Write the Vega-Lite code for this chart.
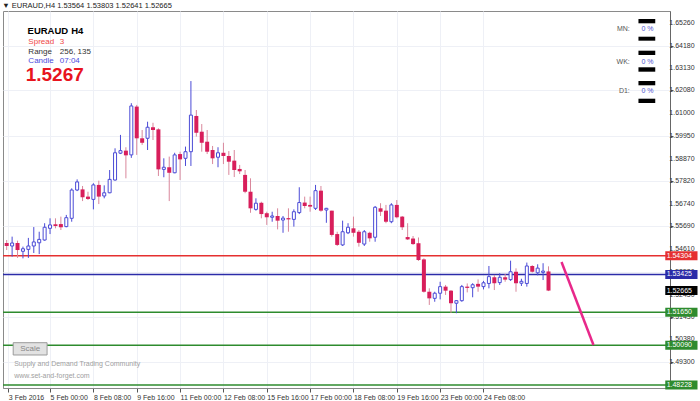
{
"$schema":"https://vega.github.io/schema/vega-lite/v6.json",
"autosize":"none",
"width":667,"height":377,
"padding":{"left":3,"top":11,"right":30,"bottom":13},
"background":"white",
"title":{"text":"▼ EURAUD,H4  1.53564 1.53803 1.52641 1.52665","anchor":"start","fontSize":7.5,"font":"Liberation Sans","fontWeight":"normal","color":"#222","offset":2},
"config":{"view":{"stroke":"#8a8a8a","strokeWidth":1},"font":"Liberation Sans","axis":{"labelOverlap":false,"labelBound":false,"labelFlush":false}},
"datasets":{
"candles":[
{"i":0,"o":1.5490,"h":1.5504,"l":1.5457,"c":1.5476},
{"i":1,"o":1.5476,"h":1.5520,"l":1.5426,"c":1.5490},
{"i":2,"o":1.5490,"h":1.5501,"l":1.5420,"c":1.5457},
{"i":3,"o":1.5451,"h":1.5473,"l":1.5418,"c":1.5463},
{"i":4,"o":1.5460,"h":1.5514,"l":1.5420,"c":1.5476},
{"i":5,"o":1.5476,"h":1.5565,"l":1.5443,"c":1.5495},
{"i":6,"o":1.5491,"h":1.5543,"l":1.5438,"c":1.5507},
{"i":7,"o":1.5504,"h":1.5583,"l":1.5501,"c":1.5564},
{"i":8,"o":1.5559,"h":1.5606,"l":1.5532,"c":1.5575},
{"i":9,"o":1.5578,"h":1.5606,"l":1.5559,"c":1.5570},
{"i":10,"o":1.5579,"h":1.5614,"l":1.5551,"c":1.5564},
{"i":11,"o":1.5567,"h":1.5622,"l":1.5564,"c":1.5609},
{"i":12,"o":1.5606,"h":1.5747,"l":1.5590,"c":1.5739},
{"i":13,"o":1.5739,"h":1.5789,"l":1.5734,"c":1.5777},
{"i":14,"o":1.5742,"h":1.5758,"l":1.5687,"c":1.5705},
{"i":15,"o":1.5708,"h":1.5731,"l":1.5692,"c":1.5697},
{"i":16,"o":1.5695,"h":1.5771,"l":1.5648,"c":1.5763},
{"i":17,"o":1.5763,"h":1.5783,"l":1.5673,"c":1.5708},
{"i":18,"o":1.5711,"h":1.5761,"l":1.5700,"c":1.5726},
{"i":19,"o":1.5726,"h":1.5833,"l":1.5724,"c":1.5789},
{"i":20,"o":1.5786,"h":1.5935,"l":1.5783,"c":1.5914},
{"i":21,"o":1.5912,"h":1.5998,"l":1.5908,"c":1.5924},
{"i":22,"o":1.5924,"h":1.5940,"l":1.5794,"c":1.5902},
{"i":23,"o":1.5904,"h":1.6147,"l":1.5890,"c":1.6134},
{"i":24,"o":1.6131,"h":1.6139,"l":1.5904,"c":1.5982},
{"i":25,"o":1.5982,"h":1.6021,"l":1.5951,"c":1.5961},
{"i":26,"o":1.5982,"h":1.6060,"l":1.5927,"c":1.6034},
{"i":27,"o":1.6034,"h":1.6055,"l":1.5974,"c":1.6021},
{"i":28,"o":1.6024,"h":1.6029,"l":1.5805,"c":1.5836},
{"i":29,"o":1.5836,"h":1.5888,"l":1.5799,"c":1.5846},
{"i":30,"o":1.5846,"h":1.5896,"l":1.5687,"c":1.5820},
{"i":31,"o":1.5820,"h":1.5914,"l":1.5818,"c":1.5904},
{"i":32,"o":1.5908,"h":1.5919,"l":1.5786,"c":1.5883},
{"i":33,"o":1.5888,"h":1.5943,"l":1.5852,"c":1.5919},
{"i":34,"o":1.5919,"h":1.6251,"l":1.5852,"c":1.6091},
{"i":35,"o":1.6087,"h":1.6115,"l":1.5990,"c":1.6008},
{"i":36,"o":1.6013,"h":1.6049,"l":1.5919,"c":1.5961},
{"i":37,"o":1.5966,"h":1.6021,"l":1.5908,"c":1.5919},
{"i":38,"o":1.5927,"h":1.5946,"l":1.5861,"c":1.5888},
{"i":39,"o":1.5893,"h":1.5940,"l":1.5846,"c":1.5914},
{"i":40,"o":1.5914,"h":1.5961,"l":1.5861,"c":1.5899},
{"i":41,"o":1.5899,"h":1.5922,"l":1.5810,"c":1.5872},
{"i":42,"o":1.5877,"h":1.5927,"l":1.5800,"c":1.5833},
{"i":43,"o":1.5838,"h":1.5857,"l":1.5814,"c":1.5827},
{"i":44,"o":1.5810,"h":1.5833,"l":1.5724,"c":1.5731},
{"i":45,"o":1.5731,"h":1.5794,"l":1.5632,"c":1.5653},
{"i":46,"o":1.5648,"h":1.5700,"l":1.5642,"c":1.5677},
{"i":47,"o":1.5679,"h":1.5684,"l":1.5606,"c":1.5626},
{"i":48,"o":1.5630,"h":1.5637,"l":1.5575,"c":1.5611},
{"i":49,"o":1.5611,"h":1.5637,"l":1.5590,"c":1.5617},
{"i":50,"o":1.5617,"h":1.5653,"l":1.5554,"c":1.5595},
{"i":51,"o":1.5598,"h":1.5617,"l":1.5538,"c":1.5607},
{"i":52,"o":1.5607,"h":1.5653,"l":1.5543,"c":1.5601},
{"i":53,"o":1.5601,"h":1.5648,"l":1.5567,"c":1.5637},
{"i":54,"o":1.5633,"h":1.5752,"l":1.5626,"c":1.5680},
{"i":55,"o":1.5680,"h":1.5708,"l":1.5653,"c":1.5664},
{"i":56,"o":1.5669,"h":1.5708,"l":1.5637,"c":1.5661},
{"i":57,"o":1.5653,"h":1.5763,"l":1.5645,"c":1.5736},
{"i":58,"o":1.5736,"h":1.5758,"l":1.5637,"c":1.5642},
{"i":59,"o":1.5645,"h":1.5655,"l":1.5585,"c":1.5653},
{"i":60,"o":1.5642,"h":1.5642,"l":1.5520,"c":1.5528},
{"i":61,"o":1.5532,"h":1.5543,"l":1.5476,"c":1.5481},
{"i":62,"o":1.5481,"h":1.5595,"l":1.5476,"c":1.5543},
{"i":63,"o":1.5538,"h":1.5583,"l":1.5532,"c":1.5564},
{"i":64,"o":1.5559,"h":1.5614,"l":1.5520,"c":1.5538},
{"i":65,"o":1.5543,"h":1.5551,"l":1.5473,"c":1.5491},
{"i":66,"o":1.5485,"h":1.5551,"l":1.5476,"c":1.5543},
{"i":67,"o":1.5538,"h":1.5543,"l":1.5496,"c":1.5512},
{"i":68,"o":1.5517,"h":1.5664,"l":1.5496,"c":1.5658},
{"i":69,"o":1.5653,"h":1.5677,"l":1.5617,"c":1.5637},
{"i":70,"o":1.5642,"h":1.5669,"l":1.5583,"c":1.5590},
{"i":71,"o":1.5590,"h":1.5677,"l":1.5583,"c":1.5669},
{"i":72,"o":1.5669,"h":1.5692,"l":1.5606,"c":1.5611},
{"i":73,"o":1.5614,"h":1.5617,"l":1.5551,"c":1.5564},
{"i":74,"o":1.5518,"h":1.5583,"l":1.5504,"c":1.5507},
{"i":75,"o":1.5511,"h":1.5523,"l":1.5481,"c":1.5485},
{"i":76,"o":1.5489,"h":1.5516,"l":1.5406,"c":1.5410},
{"i":77,"o":1.5413,"h":1.5418,"l":1.5257,"c":1.5261},
{"i":78,"o":1.5261,"h":1.5277,"l":1.5199,"c":1.5230},
{"i":79,"o":1.5230,"h":1.5261,"l":1.5214,"c":1.5254},
{"i":80,"o":1.5254,"h":1.5308,"l":1.5225,"c":1.5285},
{"i":81,"o":1.5285,"h":1.5293,"l":1.5246,"c":1.5266},
{"i":82,"o":1.5266,"h":1.5269,"l":1.5162,"c":1.5207},
{"i":83,"o":1.5207,"h":1.5222,"l":1.5160,"c":1.5219},
{"i":84,"o":1.5219,"h":1.5293,"l":1.5214,"c":1.5285},
{"i":85,"o":1.5285,"h":1.5300,"l":1.5258,"c":1.5279},
{"i":86,"o":1.5280,"h":1.5301,"l":1.5235,"c":1.5294},
{"i":87,"o":1.5298,"h":1.5319,"l":1.5261,"c":1.5285},
{"i":88,"o":1.5285,"h":1.5312,"l":1.5272,"c":1.5303},
{"i":89,"o":1.5300,"h":1.5382,"l":1.5277,"c":1.5332},
{"i":90,"o":1.5329,"h":1.5340,"l":1.5269,"c":1.5301},
{"i":91,"o":1.5304,"h":1.5348,"l":1.5293,"c":1.5329},
{"i":92,"o":1.5329,"h":1.5345,"l":1.5308,"c":1.5318},
{"i":93,"o":1.5318,"h":1.5407,"l":1.5312,"c":1.5355},
{"i":94,"o":1.5355,"h":1.5371,"l":1.5261,"c":1.5301},
{"i":95,"o":1.5301,"h":1.5322,"l":1.5288,"c":1.5310},
{"i":96,"o":1.5300,"h":1.5398,"l":1.5285,"c":1.5382},
{"i":97,"o":1.5382,"h":1.5386,"l":1.5351,"c":1.5355},
{"i":98,"o":1.5350,"h":1.5390,"l":1.5338,"c":1.5372},
{"i":99,"o":1.5352,"h":1.5395,"l":1.5316,"c":1.5358},
{"i":100,"o":1.53564,"h":1.53803,"l":1.52641,"c":1.52665}
],
"levels":[
{"p":1.54304,"kind":"resistance"},
{"p":1.53425,"kind":"pivot"},
{"p":1.51650,"kind":"support"},
{"p":1.50090,"kind":"support"},
{"p":1.48228,"kind":"support"}
],
"ylabels":[
{"p":1.6526,"label":"1.65260"},{"p":1.6418,"label":"1.64180"},{"p":1.6313,"label":"1.63130"},{"p":1.6208,"label":"1.62080"},
{"p":1.61,"label":"1.61000"},{"p":1.5995,"label":"1.59950"},{"p":1.5887,"label":"1.58870"},{"p":1.5782,"label":"1.57820"},
{"p":1.5674,"label":"1.56740"},{"p":1.5569,"label":"1.55690"},{"p":1.5461,"label":"1.54610"},{"p":1.5353,"label":"1.53530"},
{"p":1.5245,"label":"1.52450"},{"p":1.5143,"label":"1.51430"},{"p":1.5038,"label":"1.50380"},{"p":1.493,"label":"1.49300"}
],
"tags":[
{"p":1.54304,"kind":"resistance","label":"1.54304"},
{"p":1.53425,"kind":"pivot","label":"1.53425"},
{"p":1.52665,"kind":"bid","label":"1.52665"},
{"p":1.51650,"kind":"support","label":"1.51650"},
{"p":1.50090,"kind":"support","label":"1.50090"},
{"p":1.48228,"kind":"support","label":"1.48228"}
]
},
"layer":[
{"data":{"name":"levels"},"mark":{"type":"rule","strokeWidth":1.5},
 "encoding":{
  "y":{"field":"p","type":"quantitative","title":null,"scale":{"domain":[1.48087,1.65802],"nice":false,"zero":false},
   "axis":{"orient":"right","values":[1.6526,1.6418,1.6313,1.6208,1.61,1.5995,1.5887,1.5782,1.5674,1.5569,1.5461,1.5353,1.5245,1.5143,1.5038,1.493],"labels":false,"tickSize":3,"tickColor":"#555","domainColor":"#666","grid":true,"gridColor":"#eef0f6","title":null}},
  "color":{"field":"kind","type":"nominal","legend":null,"scale":{"domain":["resistance","pivot","support","bid"],"range":["#e53030","#2b2ba8","#2e8b2e","#000000"]}}
 }},
{"data":{"name":"candles"},"transform":[{"filter":"datum.c < datum.o"}],"mark":{"type":"rule","color":"#d9879b","strokeWidth":1,"clip":true},
 "encoding":{
  "x":{"field":"i","type":"quantitative","title":null,"scale":{"domain":[0.24,121.5],"nice":false,"zero":false},
   "axis":{"values":[0.3,8,16,24,32,40,48,56,64,72,80,88],"labelExpr":"['3 Feb 2016','5 Feb 00:00','8 Feb 08:00','9 Feb 16:00','11 Feb 00:00','12 Feb 08:00','15 Feb 16:00','17 Feb 00:00','18 Feb 08:00','19 Feb 16:00','23 Feb 00:00','24 Feb 08:00'][round(datum.value/8)]","labelAlign":"left","labelFontSize":7,"labelColor":"#333","tickSize":4,"tickColor":"#555","domainColor":"#888","grid":true,"gridColor":"#eef0f6","labelPadding":1,"labelFlush":false,"labelOverlap":false,"labelBound":false,"title":null}},
  "y":{"field":"l","type":"quantitative","title":null},
  "y2":{"field":"h"}
 }},
{"data":{"name":"candles"},"transform":[{"filter":"datum.c >= datum.o"}],"mark":{"type":"rule","color":"#4b4bd6","strokeWidth":1,"clip":true},
 "encoding":{
  "x":{"field":"i","type":"quantitative","title":null},
  "y":{"field":"l","type":"quantitative","title":null},
  "y2":{"field":"h"}
 }},
{"data":{"name":"candles"},"transform":[{"filter":"datum.c < datum.o"}],"mark":{"type":"bar","color":"#d81e5b","width":4,"clip":true},
 "encoding":{
  "x":{"field":"i","type":"quantitative","title":null},
  "y":{"field":"o","type":"quantitative","title":null},
  "y2":{"field":"c"}
 }},
{"data":{"name":"candles"},"transform":[{"filter":"datum.c >= datum.o"}],"mark":{"type":"bar","fill":"white","stroke":"#4b4bd6","strokeWidth":1,"width":3,"clip":true},
 "encoding":{
  "x":{"field":"i","type":"quantitative","title":null},
  "y":{"field":"o","type":"quantitative","title":null},
  "y2":{"field":"c"}
 }},
{"data":{"values":[{"i":102.4,"p":1.5401},{"i":108.3,"p":1.5011}]},"mark":{"type":"line","color":"#e8288a","strokeWidth":2.5},
 "encoding":{
  "x":{"field":"i","type":"quantitative","title":null},
  "y":{"field":"p","type":"quantitative","title":null}
 }},
{"data":{"name":"ylabels"},"mark":{"type":"text","color":"#333","fontSize":7,"align":"left","baseline":"middle","clip":false},
 "encoding":{
  "x":{"datum":122.3,"type":"quantitative","title":null},
  "y":{"field":"p","type":"quantitative","title":null},
  "text":{"field":"label"}
 }},
{"data":{"name":"tags"},"mark":{"type":"rect","yOffset":-4.5,"y2Offset":4.5,"clip":false},
 "encoding":{
  "x":{"datum":121.55,"type":"quantitative","title":null},
  "x2":{"datum":127.5},
  "y":{"field":"p","type":"quantitative","title":null},
  "y2":{"field":"p"},
  "color":{"field":"kind","type":"nominal","legend":null}
 }},
{"data":{"name":"tags"},"mark":{"type":"text","color":"white","fontSize":7,"align":"left","baseline":"middle","clip":false},
 "encoding":{
  "x":{"datum":121.8,"type":"quantitative","title":null},
  "y":{"field":"p","type":"quantitative","title":null},
  "text":{"field":"label"}
 }},
{"data":{"values":[{"i":3.85,"p":1.64839,"t":"EURAUD"},{"i":11.9,"p":1.64839,"t":"H4"}]},"mark":{"type":"text","fontSize":9.5,"fontWeight":"bold","color":"#000","align":"left","baseline":"middle"},
 "encoding":{"x":{"field":"i","type":"quantitative","title":null},"y":{"field":"p","type":"quantitative","title":null},"text":{"field":"t"}}},
{"data":{"values":[{"i":4.0,"p":1.64331,"t":"Spread"},{"i":9.8,"p":1.64331,"t":"3"}]},"mark":{"type":"text","fontSize":8,"color":"#f04848","align":"left","baseline":"middle"},
 "encoding":{"x":{"field":"i","type":"quantitative","title":null},"y":{"field":"p","type":"quantitative","title":null},"text":{"field":"t"}}},
{"data":{"values":[{"i":4.0,"p":1.6389,"t":"Range"},{"i":9.8,"p":1.6389,"t":"256, 135"}]},"mark":{"type":"text","fontSize":8,"color":"#333","align":"left","baseline":"middle"},
 "encoding":{"x":{"field":"i","type":"quantitative","title":null},"y":{"field":"p","type":"quantitative","title":null},"text":{"field":"t"}}},
{"data":{"values":[{"i":4.0,"p":1.63453,"t":"Candle"},{"i":9.8,"p":1.63453,"t":"07:04"}]},"mark":{"type":"text","fontSize":8,"color":"#4b4bdd","align":"left","baseline":"middle"},
 "encoding":{"x":{"field":"i","type":"quantitative","title":null},"y":{"field":"p","type":"quantitative","title":null},"text":{"field":"t"}}},
{"data":{"values":[{"i":3.5,"p":1.62772,"t":"1.5267"}]},"mark":{"type":"text","fontSize":19,"fontWeight":"bold","color":"#e8141e","align":"left","baseline":"middle"},
 "encoding":{"x":{"field":"i","type":"quantitative","title":null},"y":{"field":"p","type":"quantitative","title":null},"text":{"field":"t"}}},
{"data":{"values":[{"i":116.6,"i2":119.7,"p":1.65426,"p2":1.65224},{"i":116.6,"i2":119.7,"p":1.64594,"p2":1.64407},{"i":116.6,"i2":119.7,"p":1.63937,"p2":1.63735},{"i":116.6,"i2":119.7,"p":1.63157,"p2":1.6295},{"i":116.6,"i2":119.7,"p":1.62513,"p2":1.62311},{"i":116.6,"i2":119.7,"p":1.61681,"p2":1.61479}]},
 "mark":{"type":"rect","color":"#000"},
 "encoding":{"x":{"field":"i","type":"quantitative","title":null},"x2":{"field":"i2"},"y":{"field":"p","type":"quantitative","title":null},"y2":{"field":"p2"}}},
{"data":{"values":[{"i":115.0,"p":1.64942,"t":"MN:"},{"i":115.0,"p":1.6342,"t":"WK:"},{"i":115.0,"p":1.62057,"t":"D1:"}]},"mark":{"type":"text","fontSize":7,"color":"#555","align":"right","baseline":"middle"},
 "encoding":{"x":{"field":"i","type":"quantitative","title":null},"y":{"field":"p","type":"quantitative","title":null},"text":{"field":"t"}}},
{"data":{"values":[{"i":117.15,"p":1.64942,"t":"0 %"},{"i":117.15,"p":1.6342,"t":"0 %"},{"i":117.15,"p":1.62057,"t":"0 %"}]},"mark":{"type":"text","fontSize":7,"color":"#5050d0","align":"left","baseline":"middle"},
 "encoding":{"x":{"field":"i","type":"quantitative","title":null},"y":{"field":"p","type":"quantitative","title":null},"text":{"field":"t"}}},
{"data":{"values":[{"i":1.2,"i2":7.45,"p":1.50216,"p2":1.49638}]},"mark":{"type":"rect","fill":"#e2e2e2","stroke":"#9a9a9a","strokeWidth":1},
 "encoding":{"x":{"field":"i","type":"quantitative","title":null},"x2":{"field":"i2"},"y":{"field":"p","type":"quantitative","title":null},"y2":{"field":"p2"}}},
{"data":{"values":[{"i":4.33,"p":1.4992,"t":"Scale"}]},"mark":{"type":"text","fontSize":8,"color":"#888","align":"center","baseline":"middle"},
 "encoding":{"x":{"field":"i","type":"quantitative","title":null},"y":{"field":"p","type":"quantitative","title":null},"text":{"field":"t"}}},
{"data":{"values":[{"i":1.38,"p":1.49201,"t":"Supply and Demand Trading Community"},{"i":1.38,"p":1.48651,"t":"www.set-and-forget.com"}]},"mark":{"type":"text","fontSize":7,"color":"#a0a0a0","align":"left","baseline":"middle"},
 "encoding":{"x":{"field":"i","type":"quantitative","title":null},"y":{"field":"p","type":"quantitative","title":null},"text":{"field":"t"}}}
]
}
